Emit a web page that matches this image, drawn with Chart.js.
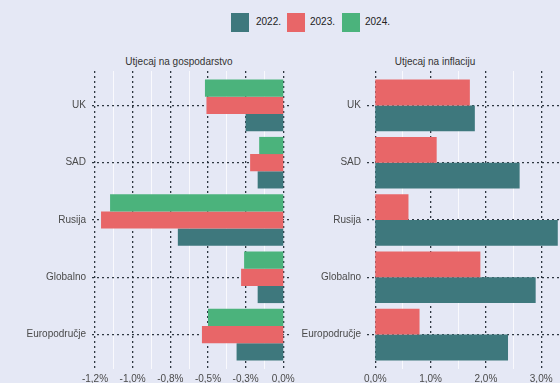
<!DOCTYPE html>
<html>
<head>
<meta charset="utf-8">
<script src="https://cdn.jsdelivr.net/npm/chart.js@4.4.1/dist/chart.umd.min.js"></script>
<style>
  html, body { margin: 0; padding: 0; background: #E5E8F5; }
  body { width: 560px; height: 383px; position: relative; overflow: hidden;
         font-family: "Liberation Sans", Arial, sans-serif; }
  canvas { position: absolute; top: 0; }
  #growthChart { left: 0; }
  #inflationChart { left: 296px; }
  .panel-title { position: absolute; top: 56px; font-size: 10px; line-height: 12px;
                 color: #333; transform: translateX(-50%); white-space: nowrap; }
  .swatch { position: absolute; top: 13px; width: 18px; height: 19px; }
  .legend-text { position: absolute; top: 16px; font-size: 10px; line-height: 12px; color: #222; }
</style>
</head>
<body>
<div id="legend"></div>
<div class="panel-title" style="left:179px">Utjecaj na gospodarstvo</div>
<div class="panel-title" style="left:435px">Utjecaj na inflaciju</div>
<canvas id="growthChart" width="296" height="383"></canvas>
<canvas id="inflationChart" width="264" height="383"></canvas>
<script>
// Regions, listed top to bottom
const categories = ['UK', 'SAD', 'Rusija', 'Globalno', 'Europodručje'];
const years = ['2022.', '2023.', '2024.'];

// Impact on the economy (GDP, %)
const growth2022 = [-0.25, -0.17, -0.70, -0.17, -0.31];
const growth2023 = [-0.51, -0.22, -1.21, -0.28, -0.54];
const growth2024 = [-0.52, -0.16, -1.15, -0.26, -0.50];

// Impact on inflation (p.p.)
const inflation2022 = [1.80, 2.61, 3.30, 2.90, 2.40];
const inflation2023 = [1.71, 1.11, 0.60, 1.90, 0.80];

// Axis ticks and their printed labels
const growthTicks = [-1.25, -1.0, -0.75, -0.5, -0.25, 0];
const growthTickLabels = ['-1,2%', '-1,0%', '-0,8%', '-0,5%', '-0,3%', '0,0%'];
const growthMinorTicks = [-1.125, -0.875, -0.625, -0.375, -0.125];
const inflationTicks = [0, 1, 2, 3];
const inflationTickLabels = ['0,0%', '1,0%', '2,0%', '3,0%'];
const inflationMinorTicks = [0.5, 1.5, 2.5];

const yearColors = { '2022.': '#3E787D', '2023.': '#E86668', '2024.': '#4BB37C' };

// Legend (shared by both panels)
const legend = document.getElementById('legend');
const swatchX = [231, 287, 342];
const textX = [256, 310, 365];
years.forEach((y, i) => {
  const sw = document.createElement('div');
  sw.className = 'swatch';
  sw.style.left = swatchX[i] + 'px';
  sw.style.background = yearColors[y];
  legend.appendChild(sw);
  const t = document.createElement('div');
  t.className = 'legend-text';
  t.style.left = textX[i] + 'px';
  t.textContent = y;
  legend.appendChild(t);
});

const tickFont = { family: '"Liberation Sans", Arial, sans-serif', size: 10 };
const gridDark = 'rgba(25,35,45,0.9)';

function barSet(label, values) {
  return {
    label,
    data: values.map((v, i) => ({ x: v, y: i })),
    backgroundColor: yearColors[label],
    borderWidth: 0,
    barPercentage: 1,
    categoryPercentage: 0.9
  };
}

function makeOptions(cfg) {
  return {
    indexAxis: 'y',
    responsive: false,
    animation: false,
    events: [],
    layout: { padding: { top: 71, bottom: 0, left: 0, right: cfg.rightPad } },
    plugins: { legend: { display: false }, tooltip: { enabled: false } },
    scales: {
      xMinor: {
        type: 'linear', position: 'bottom', axis: 'x',
        min: cfg.min, max: cfg.max,
        afterBuildTicks: s => { s.ticks = cfg.minor.map(v => ({ value: v })); },
        afterFit: s => { s.height = 0; s.paddingLeft = 0; s.paddingRight = 0; },
        ticks: { display: false },
        grid: { color: 'rgba(255,255,255,0.75)', lineWidth: 1, drawTicks: false },
        border: { display: false }
      },
      x: {
        type: 'linear', position: 'bottom',
        min: cfg.min, max: cfg.max, z: 1,
        afterBuildTicks: s => { s.ticks = cfg.ticks.map(v => ({ value: v })); },
        afterFit: s => { s.height = 14; s.paddingLeft = 0; s.paddingRight = 0; },
        ticks: {
          autoSkip: false, maxRotation: 0, padding: 4,
          font: tickFont, color: '#4a4a4a',
          callback: (v, i) => cfg.labels[i]
        },
        grid: { color: gridDark, lineWidth: 1.3, drawTicks: false },
        border: { display: false, dash: [2, 3] }
      },
      y: {
        type: 'linear', position: 'left', reverse: true, offset: false,
        min: -0.6, max: 4.6, z: 1,
        afterBuildTicks: s => { s.ticks = categories.map((c, i) => ({ value: i })); },
        afterFit: s => { s.width = cfg.yWidth; s.paddingTop = 0; s.paddingBottom = 0; },
        ticks: {
          autoSkip: false, padding: 6,
          font: tickFont, color: '#4a4a4a',
          callback: v => categories[v]
        },
        grid: { color: gridDark, lineWidth: 1.3, drawTicks: false, offset: false },
        border: { display: false, dash: [2, 3] }
      }
    }
  };
}

new Chart(document.getElementById('growthChart'), {
  type: 'bar',
  data: {
    datasets: [
      barSet('2024.', growth2024),
      barSet('2023.', growth2023),
      barSet('2022.', growth2022)
    ]
  },
  options: makeOptions({
    min: -1.27, max: 0.058, ticks: growthTicks, labels: growthTickLabels,
    minor: growthMinorTicks, yWidth: 92, rightPad: 4
  })
});

new Chart(document.getElementById('inflationChart'), {
  type: 'bar',
  data: {
    datasets: [
      barSet('2023.', inflation2023),
      barSet('2022.', inflation2022)
    ]
  },
  options: makeOptions({
    min: -0.15, max: 3.34, ticks: inflationTicks, labels: inflationTickLabels,
    minor: inflationMinorTicks, yWidth: 71, rightPad: 0
  })
});
</script>
</body>
</html>
